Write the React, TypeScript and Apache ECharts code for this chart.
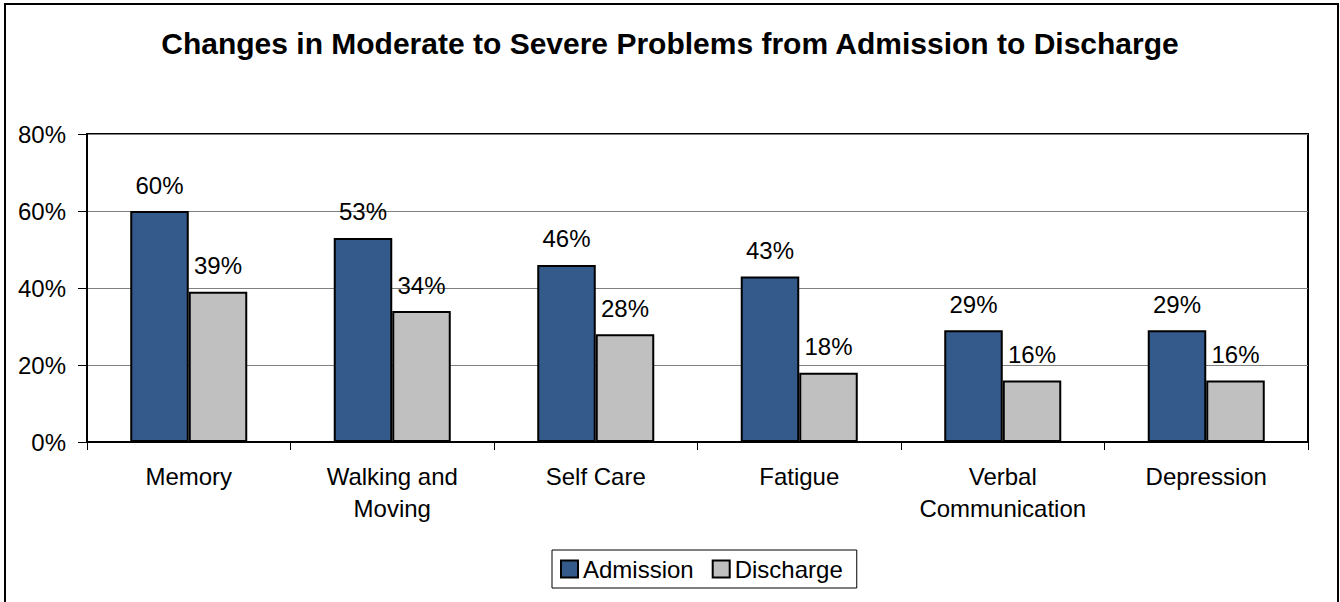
import React, { useEffect, useRef } from "react";
import * as echarts from "echarts";

const categories = [
  "Memory",
  "Walking and\nMoving",
  "Self Care",
  "Fatigue",
  "Verbal\nCommunication",
  "Depression",
];
const admission = [60, 53, 46, 43, 29, 29];
const discharge = [39, 34, 28, 18, 16, 16];
const seriesNames = ["Admission", "Discharge"];
const titleText = "Changes in Moderate to Severe Problems from Admission to Discharge";

const FONT = "'Liberation Sans', Arial, Helvetica, sans-serif";

export default function App() {
  const ref = useRef<HTMLDivElement>(null);
  useEffect(() => {
    if (!ref.current) return;
    const chart = echarts.init(ref.current, null, { renderer: "svg" });
    const labelStyle = {
      show: true,
      position: "top" as const,
      distance: 14,
      formatter: "{c}%",
      color: "#000",
      fontSize: 24,
      fontFamily: FONT,
    };
    chart.setOption({
      animation: false,
      backgroundColor: "#fff",
      title: {
        text: titleText,
        left: "center",
        top: 23,
        textStyle: { fontSize: 30, fontWeight: "bold", color: "#000", fontFamily: FONT },
      },
      graphic: [
        {
          type: "rect",
          shape: { x: 5, y: 4, width: 1333, height: 700 },
          style: { fill: "none", stroke: "#000", lineWidth: 2 },
          silent: true,
          z: -1,
        },
      ],
      legend: {
        data: seriesNames,
        left: 552,
        top: 550,
        orient: "horizontal",
        padding: [7, 14, 7, 8],
        itemWidth: 17,
        itemHeight: 17,
        itemGap: 18,
        icon: "rect",
        borderColor: "#000",
        borderWidth: 1,
        textStyle: { fontSize: 24, color: "#000", fontFamily: FONT },
      },
      grid: {
        left: 87,
        right: 32,
        top: 134,
        bottom: 160,
        show: true,
        borderColor: "#000",
        borderWidth: 2,
        containLabel: false,
      },
      xAxis: {
        type: "category",
        data: categories,
        axisLine: { show: true, lineStyle: { color: "#000", width: 2 } },
        axisTick: { show: true, length: 8, lineStyle: { color: "#000", width: 1 }, alignWithLabel: false },
        axisLabel: {
          interval: 0,
          margin: 18,
          color: "#000",
          fontSize: 24,
          lineHeight: 32,
          fontFamily: FONT,
        },
      },
      yAxis: {
        type: "value",
        min: 0,
        max: 80,
        interval: 20,
        axisLine: { show: true, lineStyle: { color: "#000", width: 2 } },
        axisTick: { show: true, length: 9, lineStyle: { color: "#000", width: 1 } },
        axisLabel: {
          formatter: "{value}%",
          margin: 21,
          color: "#000",
          fontSize: 24,
          fontFamily: FONT,
        },
        splitLine: { show: true, lineStyle: { color: "#808080", width: 1 } },
      },
      series: [
        {
          name: seriesNames[0],
          type: "bar",
          data: admission,
          barGap: "0%",
          barCategoryGap: "42.5%",
          itemStyle: { color: "#335A8A", borderColor: "#000", borderWidth: 2 },
          label: labelStyle,
        },
        {
          name: seriesNames[1],
          type: "bar",
          data: discharge,
          barGap: "0%",
          barCategoryGap: "42.5%",
          itemStyle: { color: "#C0C0C0", borderColor: "#000", borderWidth: 2 },
          label: labelStyle,
        },
      ],
    });
    return () => chart.dispose();
  }, []);
  return (
    <div
      ref={ref}
      style={{ position: "fixed", left: 0, top: 0, width: 1340, height: 602, background: "#fff" }}
    />
  );
}
